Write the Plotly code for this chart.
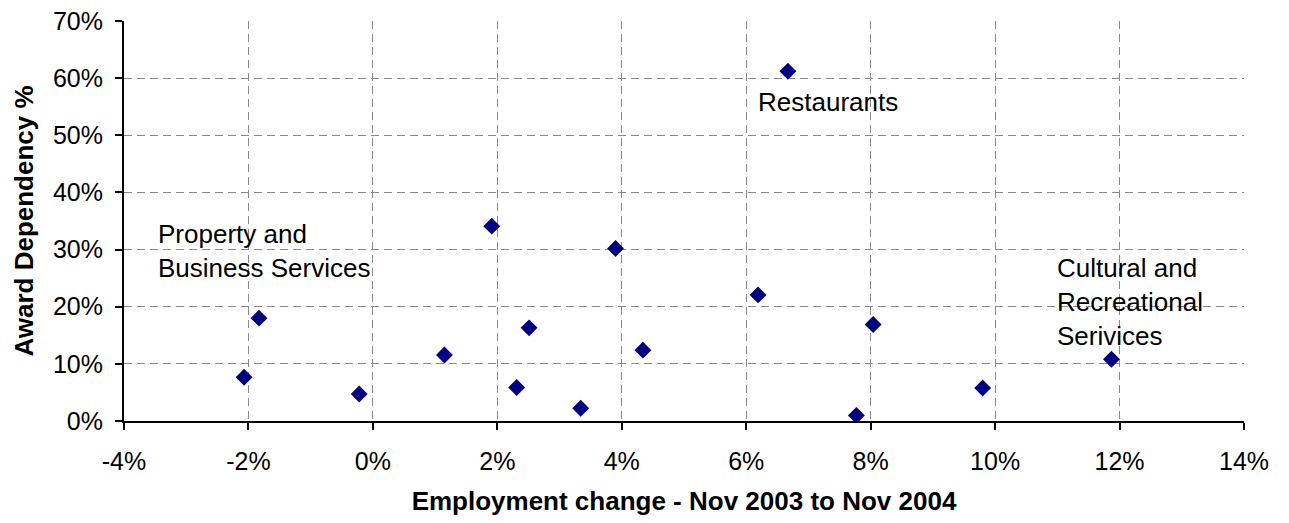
import plotly.graph_objects as go

# Employment change (%) vs award dependency (%) by industry
employment_change = [-2.07, -1.83, -0.22, 1.15, 1.91, 2.31, 2.51, 3.34,
                     3.90, 4.34, 6.19, 6.67, 7.77, 8.04, 9.80, 11.87]
award_dependency = [7.65, 18.0, 4.73, 11.56, 34.1, 5.85, 16.3, 2.22,
                    30.2, 12.4, 22.07, 61.2, 0.95, 16.9, 5.78, 10.8]

x_ticks = [-4, -2, 0, 2, 4, 6, 8, 10, 12, 14]
x_tick_labels = ["-4%", "-2%", "0%", "2%", "4%", "6%", "8%", "10%", "12%", "14%"]
y_ticks = [0, 10, 20, 30, 40, 50, 60, 70]
y_tick_labels = ["0%", "10%", "20%", "30%", "40%", "50%", "60%", "70%"]

label_texts = ["Restaurants", "Property and<br>Business Services",
               "Cultural and<br>Recreational<br>Serivices"]
label_x = [6.16, -3.48, 10.96]
label_y = [55.9, 29.8, 20.8]

FONT = "Liberation Sans, Arial, sans-serif"

fig = go.Figure()
fig.add_trace(go.Scatter(
    x=employment_change, y=award_dependency, mode="markers",
    marker=dict(symbol="diamond", size=13, color="#000080",
                line=dict(width=0)),
    hoverinfo="x+y", showlegend=False,
))

for t, lx, ly in zip(label_texts, label_x, label_y):
    fig.add_annotation(x=lx, y=ly, text=t, showarrow=False,
                       xanchor="left", yanchor="middle", align="left",
                       font=dict(family=FONT, size=26, color="black"))

axis_common = dict(
    showline=True, linecolor="black", linewidth=2,
    ticks="outside", ticklen=7, tickwidth=1.5, tickcolor="black",
    showgrid=True, gridcolor="#888888", gridwidth=1, griddash="8px,5px",
    zeroline=False, automargin=False,
    tickfont=dict(family=FONT, size=25, color="black"),
)

fig.update_xaxes(range=[-4, 14], tickvals=x_ticks, ticktext=x_tick_labels,
                 ticklabelstandoff=10,
                 title=dict(text="<b>Employment change - Nov 2003 to Nov 2004</b>",
                            font=dict(family=FONT, size=26, color="black"),
                            standoff=18),
                 **axis_common)
fig.update_yaxes(range=[0, 70], tickvals=y_ticks, ticktext=y_tick_labels,
                 ticklabelstandoff=7,
                 title=dict(text="<b>Award Dependency %</b>",
                            font=dict(family=FONT, size=26, color="black"),
                            standoff=12),
                 **axis_common)

fig.update_layout(
    width=1289, height=523,
    margin=dict(l=124, r=45, t=21, b=102),
    paper_bgcolor="white", plot_bgcolor="white",
    font=dict(family=FONT, color="black"),
)

fig.write_html("out.html")
